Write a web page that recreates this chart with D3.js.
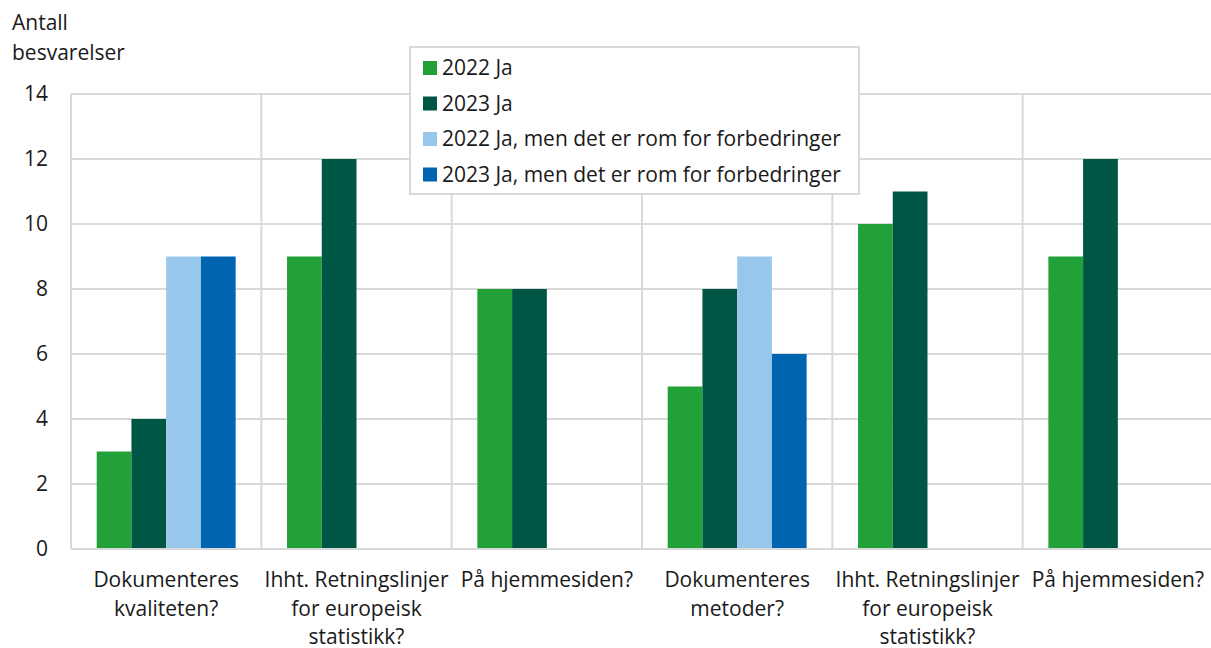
<!DOCTYPE html>
<html>
<head>
<meta charset="utf-8">
<script src="https://cdn.jsdelivr.net/npm/d3@7"></script>
<style>
  body { margin: 0; background: #fff; }
  text { font-family: "Open Sans", sans-serif; fill: #1a1a1a; }
</style>
</head>
<body>
<svg width="1211" height="648"></svg>
<script>
// data
var categories = [
  ["Dokumenteres", "kvaliteten?"],
  ["Ihht. Retningslinjer", "for europeisk", "statistikk?"],
  ["På hjemmesiden?"],
  ["Dokumenteres", "metoder?"],
  ["Ihht. Retningslinjer", "for europeisk", "statistikk?"],
  ["På hjemmesiden?"]
];
var seriesNames = ["2022 Ja", "2023 Ja", "2022 Ja, men det er rom for forbedringer", "2023 Ja, men det er rom for forbedringer"];
var colors = ["#22a139", "#005645", "#97c8ec", "#0064b0"];
var ja2022 = [3, 9, 8, 5, 10, 9];
var ja2023 = [4, 12, 8, 8, 11, 12];
var rom2022 = [9, null, null, 9, null, null];
var rom2023 = [9, null, null, 6, null, null];
var yTicks = [0, 2, 4, 6, 8, 10, 12, 14];

var series = [ja2022, ja2023, rom2022, rom2023];

var svg = d3.select("svg");
var plotLeft = 71, plotRight = 1213, plotTop = 94, plotBottom = 549;
var fs = "21px";

var x = d3.scaleBand()
    .domain(d3.range(categories.length))
    .range([plotLeft, plotRight]);

var xInner = d3.scaleBand()
    .domain(d3.range(series.length))
    .range([0, x.bandwidth()])
    .paddingOuter(0.74);

var y = d3.scaleLinear().domain([0, 14]).range([plotBottom, plotTop]);

// horizontal gridlines
svg.append("g").selectAll("line")
  .data(yTicks.filter(function(d) { return d > 0; }))
  .enter().append("line")
    .attr("x1", plotLeft).attr("x2", plotRight)
    .attr("y1", function(d) { return y(d); })
    .attr("y2", function(d) { return y(d); })
    .attr("stroke", "#d9d9d9").attr("stroke-width", 2);

// vertical category separators
svg.append("g").selectAll("line")
  .data(d3.range(categories.length + 1))
  .enter().append("line")
    .attr("x1", function(d) { return d < categories.length ? x(d) : plotRight; })
    .attr("x2", function(d) { return d < categories.length ? x(d) : plotRight; })
    .attr("y1", plotTop).attr("y2", plotBottom)
    .attr("stroke", "#d9d9d9").attr("stroke-width", 2);

// bars
series.forEach(function(s, si) {
  svg.append("g").selectAll("rect")
    .data(s.map(function(v, i) { return {v: v, i: i}; }).filter(function(d) { return d.v != null; }))
    .enter().append("rect")
      .attr("x", function(d) { return x(d.i) + xInner(si); })
      .attr("width", xInner.bandwidth())
      .attr("y", function(d) { return y(d.v); })
      .attr("height", function(d) { return y(0) - y(d.v); })
      .attr("fill", colors[si]);
});

// zero line
svg.append("line")
  .attr("x1", plotLeft).attr("x2", plotRight)
  .attr("y1", y(0)).attr("y2", y(0))
  .attr("stroke", "#d9d9d9").attr("stroke-width", 2);

// y tick labels
svg.append("g").selectAll("text")
  .data(yTicks)
  .enter().append("text")
    .attr("x", 48)
    .attr("y", function(d) { return y(d); })
    .attr("dy", "0.35em")
    .attr("text-anchor", "end")
    .style("font-size", fs)
    .text(function(d) { return d; });

// y title
svg.append("text").attr("x", 12).attr("y", 30).style("font-size", fs).text("Antall");
svg.append("text").attr("x", 12).attr("y", 60).style("font-size", fs).text("besvarelser");

// category labels
var cat = svg.append("g").selectAll("text")
  .data(categories)
  .enter().append("text")
    .attr("text-anchor", "middle")
    .style("font-size", fs);
cat.selectAll("tspan")
  .data(function(d, i) { return d.map(function(t) { return {t: t, i: i}; }); })
  .enter().append("tspan")
    .attr("x", function(d) { return x(d.i) + x.bandwidth() / 2; })
    .attr("y", function(d, j) { return 587 + j * 28.5; })
    .text(function(d) { return d.t; });

// legend
var legend = svg.append("g").attr("transform", "translate(410,47)");
legend.append("rect")
  .attr("width", 449).attr("height", 147)
  .attr("fill", "#fff").attr("stroke", "#d9d9d9").attr("stroke-width", 2);
var item = legend.selectAll("g.item")
  .data(seriesNames)
  .enter().append("g")
    .attr("class", "item")
    .attr("transform", function(d, i) { return "translate(13," + (21 + i * 35.5) + ")"; });
item.append("rect")
  .attr("x", 0).attr("y", -7).attr("width", 14).attr("height", 14)
  .attr("fill", function(d, i) { return colors[i]; });
item.append("text")
  .attr("x", 19).attr("y", 0).attr("dy", "0.35em")
  .style("font-size", fs)
  .text(function(d) { return d; });
</script>
</body>
</html>
